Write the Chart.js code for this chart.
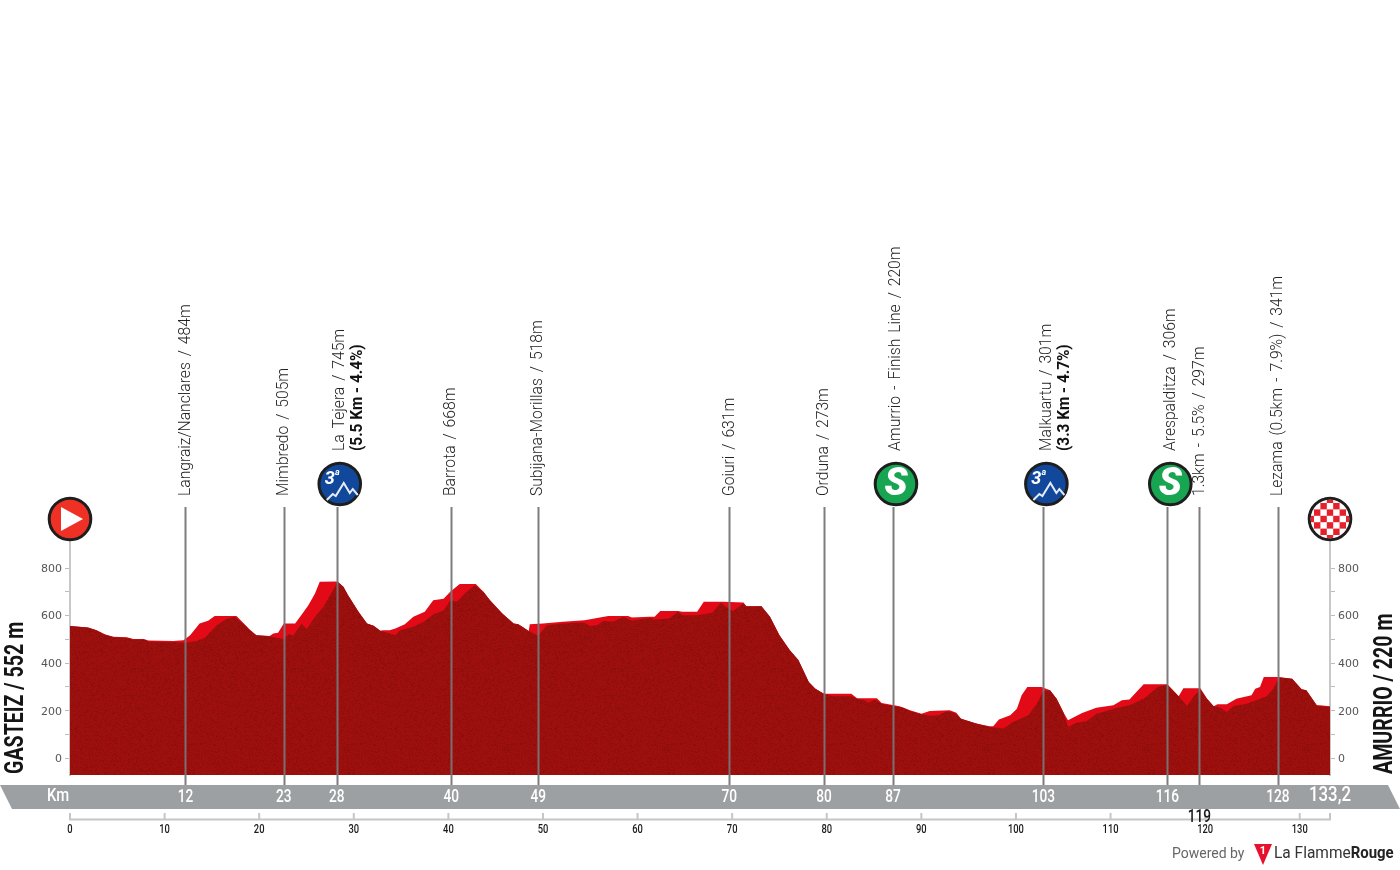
<!DOCTYPE html>
<html>
<head>
<meta charset="utf-8">
<style>html,body{margin:0;padding:0;background:#fff}canvas{display:block}</style>
<script src="https://cdn.jsdelivr.net/npm/chart.js@4"></script>
</head>
<body>
<canvas id="c" width="1400" height="870"></canvas>
<script>
// road surface (front, dark) profile
const darkKm = [0,1.9,2.8,3.7,4.6,6.0,6.7,7.8,8.3,10.9,12.2,13.4,14.3,15.5,16.6,17.4,18.3,19.0,19.7,20.8,22.6,23.1,23.6,24.5,25.0,25.9,26.8,27.8,28.3,28.9,29.4,30.5,31.4,32.1,32.8,34.4,34.9,36.3,37.4,38.4,39.5,40.2,40.9,41.8,42.8,43.7,44.4,45.7,46.9,47.4,48.5,49.5,50.4,52.1,54.3,55.0,55.7,56.4,57.4,58.5,59.4,61.3,61.8,63.3,64.3,64.7,66.3,67.9,68.8,69.6,70.1,71.2,71.5,73.1,74.0,75.0,76.1,77.0,78.1,78.8,79.7,80.7,82.6,83.2,84.0,84.4,85.1,85.8,87.0,88.1,88.8,90.0,90.9,91.8,92.7,93.5,94.2,95.8,97.2,98.7,99.7,101.3,102.2,102.9,103.6,104.3,105.0,105.5,106.4,107.5,108.5,110.1,110.8,112.0,113.5,115.0,116.0,117.2,118.1,118.8,119.5,120.2,120.9,121.6,122.3,123.0,124.4,126.5,127.2,127.8,129.2,130.2,130.7,131.8,132.1,133.2];
const darkElev = [556,550,539,521,509,507,500,500,491,488,486,493,508,560,587,595,567,539,518,514,502,522,516,567,543,595,637,707,744,721,686,616,567,557,536,518,539,553,574,605,623,665,658,696,728,700,665,609,567,564,535,515,560,567,571,556,560,578,574,595,578,591,584,588,616,602,602,612,654,630,620,651,640,640,595,518,455,413,321,293,272,261,261,251,244,234,247,230,220,213,199,185,179,181,198,192,167,146,132,126,153,181,230,283,286,251,195,132,150,157,188,205,213,223,251,300,310,261,220,261,289,251,219,213,195,220,230,261,293,340,335,290,286,223,219,216];
// upper (bright red) band of the profile
const redKm = [0,1.9,2.8,3.7,4.6,6.0,6.7,7.8,8.3,10.9,12.0,12.7,13.7,14.6,15.3,17.6,18.3,19.0,19.7,21.1,21.5,22.0,22.6,23.8,24.5,25.2,25.9,26.4,28.2,28.9,29.4,30.5,31.4,32.1,32.8,33.1,33.8,34.4,35.4,36.3,37.5,38.4,39.5,40.2,41.2,42.9,43.7,44.4,45.7,46.9,47.4,48.5,48.6,50.0,52.1,54.4,56.9,59.0,59.4,61.2,61.8,62.4,64.3,64.7,66.3,67.0,69.0,71.2,71.5,73.1,74.0,75.0,76.1,77.0,78.1,78.8,79.7,80.7,82.6,83.2,85.3,85.8,87.7,88.8,90.0,90.9,93.0,93.7,94.2,95.8,97.2,97.6,98.2,99.4,100.1,100.6,101.2,102.7,103.6,104.3,105.0,105.5,107.0,108.5,110.3,111.2,112.0,113.5,116.0,117.2,117.7,119.5,120.2,120.9,121.3,122.3,123.3,124.9,125.3,125.8,126.2,127.8,129.2,130.2,130.7,131.8,132.1,133.2];
const redElev = [556,550,539,521,511,509,502,502,495,493,497,518,567,578,598,598,570,542,518,514,525,528,567,567,605,644,693,742,744,721,686,616,567,557,536,539,539,546,564,595,616,665,671,700,733,733,700,665,609,567,564,535,564,567,574,581,598,598,592,595,595,620,620,616,616,658,658,655,640,640,595,518,455,413,321,293,272,272,272,253,253,233,219,202,188,199,202,192,167,146,135,135,163,181,209,265,300,300,286,251,195,160,191,213,223,244,247,312,312,261,295,295,251,219,227,227,251,265,293,300,342,342,335,290,286,223,223,219];
// axes
const elevTicks = [0,100,200,300,400,500,600,700,800];
const kmTicks = [0,10,20,30,40,50,60,70,80,90,100,110,120,130];
// passage points
const passKm = [12.2,22.6,28.2,40.3,49.5,69.7,79.7,87,102.9,116,119.4,127.7];
const passBand = ['12','23','28','40','49','70','80','87','103','116','119','128'];
const passName = ['Langraiz/Nanclares / 484m','Mimbredo / 505m','La Tejera / 745m','Barrota / 668m','Subijana-Morillas / 518m','Goiuri / 631m','Orduna / 273m','Amurrio - Finish Line / 220m','Malkuartu / 301m','Arespalditza / 306m','1.3km - 5.5% / 297m','Lezama (0.5km - 7.9%) / 341m'];
const passSub = ['','','(5.5 Km - 4.4%)','','','','','','(3.3 Km - 4.7%)','','',''];
const passIcon = ['','','climb','','','','','sprint','climb','sprint','',''];
const startName = 'GASTEIZ / 552 m';
const finishName = 'AMURRIO / 220 m';
const totalLabel = '133,2';

// fine speckle for the dark fill
function speckle(){
  const s=document.createElement('canvas');s.width=s.height=160;
  const g=s.getContext('2d');g.fillStyle='#9e100e';g.fillRect(0,0,160,160);
  for(let y=0;y<160;y++)for(let x=0;x<160;x++){
    const h=Math.abs(Math.sin(x*12.9898+y*78.233)*43758.5453)%1;
    if(h<0.30){g.fillStyle='rgba(70,5,5,'+(0.06+h*0.5)+')';g.fillRect(x,y,h<0.07?2:1,1);}
  }
  return g.createPattern(s,'repeat');
}

// text drawn with a horizontal squeeze (the reference face is condensed)
function sq(ctx,text,x,y,font,color,sx,rot,align,ws){
  ctx.save();ctx.translate(x,y);if(rot)ctx.rotate(-Math.PI/2);ctx.scale(sx,1);
  ctx.font=font;ctx.fillStyle=color;ctx.textAlign=align||'center';ctx.textBaseline='middle';
  if(ws)ctx.wordSpacing=ws;
  ctx.fillText(text,0,0);ctx.restore();
}
function disc(ctx,x,y,color){
  ctx.beginPath();ctx.arc(x,y,20.8,0,Math.PI*2);ctx.fillStyle=color;ctx.fill();
  ctx.lineWidth=3;ctx.strokeStyle='#1e1e1e';ctx.stroke();
}
function climbIcon(ctx,x,y){
  disc(ctx,x,y,'#12489b');
  ctx.fillStyle='#fff';ctx.textAlign='center';ctx.textBaseline='middle';
  ctx.font='italic bold 18px Roboto';ctx.fillText('3',x-10,y-5);
  ctx.font='italic bold 9px Roboto';ctx.fillText('a',x-2.5,y-11);
  ctx.beginPath();
  [[-13,16],[-7,10],[-4,12],[4,-1],[10,9],[13,5],[18,11]].forEach((p,i)=>i?ctx.lineTo(x+p[0],y+p[1]):ctx.moveTo(x+p[0],y+p[1]));
  ctx.strokeStyle='#e6ecf6';ctx.lineWidth=2;ctx.stroke();
}
function sprintIcon(ctx,x,y){
  disc(ctx,x,y,'#18a551');
  ctx.fillStyle='#fff';ctx.textAlign='center';ctx.textBaseline='middle';
  ctx.font='italic 900 38px Roboto';ctx.fillText('S',x,y+1);
}
function startIcon(ctx,x,y){
  disc(ctx,x,y,'#ee3124');
  ctx.beginPath();ctx.moveTo(x-9,y-12);ctx.lineTo(x+13,y);ctx.lineTo(x-9,y+12);ctx.closePath();
  ctx.fillStyle='#fff';ctx.fill();
}
function finishIcon(ctx,x,y){
  disc(ctx,x,y,'#fff');
  ctx.save();ctx.beginPath();ctx.arc(x,y,19.3,0,Math.PI*2);ctx.clip();
  ctx.fillStyle='#e5202a';
  const c=6.4;
  for(let i=-4;i<4;i++)for(let j=-4;j<4;j++)if((i+j)&1)ctx.fillRect(x+i*c+c/2,y+j*c+c/2,c,c);
  ctx.restore();
}

const decor = {
  id:'decor',
  beforeDatasetsDraw(chart){
    const ctx=chart.ctx,x=chart.scales.x;
    ctx.save();
    // kilometre band
    ctx.fillStyle='#9da0a2';
    ctx.beginPath();ctx.moveTo(0,785);ctx.lineTo(1388,785);ctx.lineTo(1400,809);ctx.lineTo(12,809);ctx.closePath();ctx.fill();
    // kilometre ruler
    ctx.strokeStyle='#c6c6c6';ctx.lineWidth=2;
    ctx.beginPath();ctx.moveTo(x.getPixelForValue(0)-1,819.5);ctx.lineTo(x.getPixelForValue(x.max)+1,819.5);
    kmTicks.concat([x.max]).forEach(k=>{const p=x.getPixelForValue(k);ctx.moveTo(p,813);ctx.lineTo(p,820);});
    ctx.stroke();
    kmTicks.forEach(k=>sq(ctx,String(k),x.getPixelForValue(k),829.5,'500 13px Roboto','#1a1a1a',0.72));
    ctx.restore();
  },
  afterDatasetsDraw(chart){
    const ctx=chart.ctx,x=chart.scales.x;
    ctx.save();
    // drop lines
    ctx.strokeStyle='rgba(118,118,118,0.95)';ctx.lineWidth=2;
    passKm.forEach(k=>{const p=Math.round(x.getPixelForValue(k))+0.5;ctx.beginPath();ctx.moveTo(p,507);ctx.lineTo(p,785);ctx.stroke();});
    // icons
    passKm.forEach((k,i)=>{
      const p=x.getPixelForValue(k)+3;
      if(passIcon[i]==='climb')climbIcon(ctx,p,484);
      if(passIcon[i]==='sprint')sprintIcon(ctx,p,484);
    });
    startIcon(ctx,x.getPixelForValue(0),519);
    finishIcon(ctx,x.getPixelForValue(x.max),519);
    // place names
    const nameFont='300 17px Roboto', subFont='700 16.5px Roboto';
    passKm.forEach((k,i)=>{
      const p=x.getPixelForValue(k),ic=passIcon[i];
      const off=ic?3:0,base=ic?451:496;
      sq(ctx,passName[i],p+off,base,nameFont,'#222',0.92,true,'left','2.3px');
      if(passSub[i])sq(ctx,passSub[i],p+off+18,base,subFont,'#111',0.93,true,'left');
    });
    // band labels
    const bandFont='500 19px Roboto';
    sq(ctx,'Km',58,796,bandFont,'#fff',0.78);
    passKm.forEach((k,i)=>{
      const p=x.getPixelForValue(k);
      if(passBand[i]==='119')sq(ctx,passBand[i],p,817,bandFont,'#1a1a1a',0.72);
      else sq(ctx,passBand[i],p,797,bandFont,'#fff',0.72);
    });
    sq(ctx,totalLabel,x.getPixelForValue(x.max),796,'500 19.5px Roboto','#fff',0.86);
    // start / finish names
    sq(ctx,startName,16.5,774,'700 25px Roboto','#151515',0.785,true,'left');
    sq(ctx,finishName,1385.5,774,'700 25px Roboto','#151515',0.785,true,'left');
    // footer
    sq(ctx,'Powered by',1172,854,'14px Roboto','#666',1.0,false,'left');
    ctx.beginPath();ctx.moveTo(1254,844);ctx.lineTo(1272,844);ctx.lineTo(1263,865);ctx.closePath();ctx.fillStyle='#e8112d';ctx.fill();
    sq(ctx,'1',1263,851,'bold 11px Roboto','#fff',1);
    sq(ctx,'La Flamme',1274,854,'17px Roboto','#333',0.91,false,'left');
    ctx.font='17px Roboto';
    const w=ctx.measureText('La Flamme').width*0.91;
    sq(ctx,'Rouge',1274+w,854,'700 17px Roboto','#222',0.88,false,'left');
    ctx.restore();
  }
};

const keepTicks = s => { s.ticks = elevTicks.map(v=>({value:v})); };
const elevLabel = v => (v%200===0 ? String(v) : '');
const elevAxis = pos => ({
  type:'linear',position:pos,min:-70,max:1000,
  afterBuildTicks:keepTicks,
  afterFit(s){s.width=70;},
  border:{display:true,color:'#c8c8c8',width:2},
  grid:{display:true,drawOnChartArea:false,drawTicks:true,tickLength:5,tickColor:'#bdbdbd',tickWidth:1},
  ticks:{autoSkip:false,padding:3,labelOffset:1,color:'#555',font:{family:'"DejaVu Sans"',size:11},callback:elevLabel}
});

new Chart(document.getElementById('c'),{
  type:'line',
  data:{datasets:[
    {label:'Profile',order:1,data:darkKm.map((k,i)=>({x:k,y:darkElev[i]})),backgroundColor:speckle(),borderWidth:0,pointRadius:0,tension:0,fill:'start'},
    {label:'Upper band',order:2,data:redKm.map((k,i)=>({x:k,y:redElev[i]})),backgroundColor:'#e30a17',borderWidth:0,pointRadius:0,tension:0,fill:'start'}
  ]},
  options:{
    responsive:false,animation:false,devicePixelRatio:1,
    layout:{padding:{top:520.5,left:0,right:0,bottom:0}},
    plugins:{legend:{display:false},tooltip:{enabled:false},title:{display:false}},
    scales:{
      x:{type:'linear',min:0,max:133.2,
        afterBuildTicks(s){s.ticks=kmTicks.map(v=>({value:v}));},
        afterFit(s){s.height=95;},
        border:{display:false},
        grid:{display:false},
        ticks:{display:false}
      },
      y:elevAxis('left'),
      y2:elevAxis('right')
    }
  },
  plugins:[decor]
});
</script>
</body>
</html>
